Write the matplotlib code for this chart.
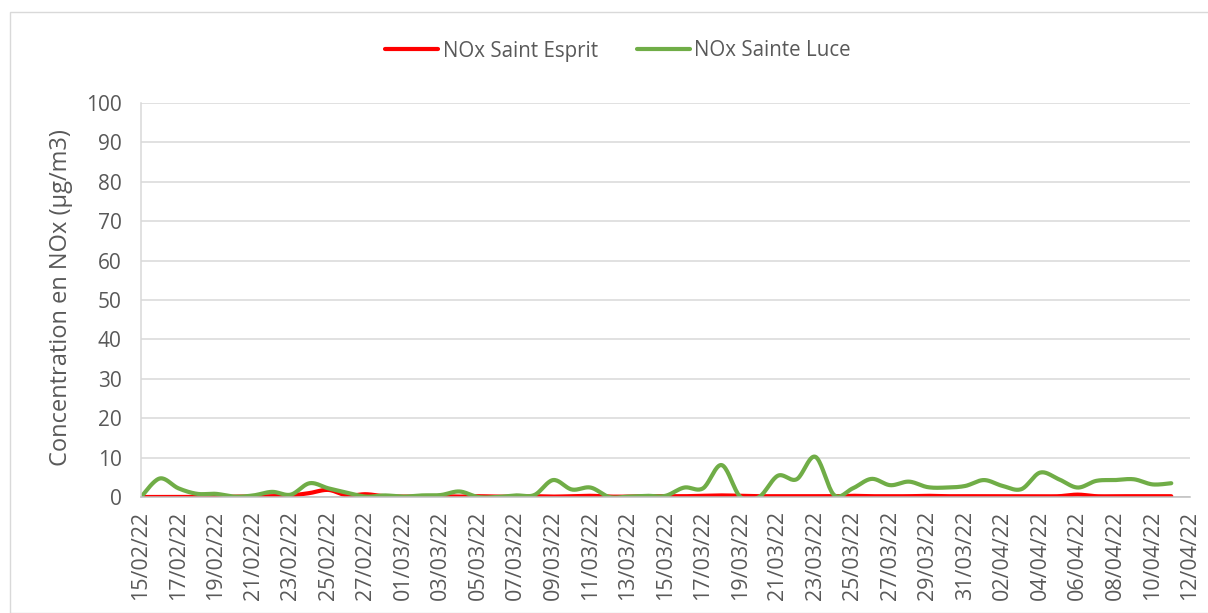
import numpy as np
import pandas as pd
import matplotlib
matplotlib.use("Agg")
import matplotlib.pyplot as plt
import matplotlib.dates as mdates
from matplotlib.patches import Rectangle

plt.rcParams['font.family'] = ['Open Sans', 'DejaVu Sans']

start_date = "2022-02-15"
n_days = 56

saint_esprit = [0.0, 0.0, 0.0, 0.0, 0.0, 0.1, 0.1, 0.2, 0.4, 1.0,
                1.8, 0.4, 0.7, 0.2, 0.1, 0.1, 0.2, 0.1, 0.2, 0.1,
                0.1, 0.2, 0.1, 0.2, 0.3, 0.1, 0.1, 0.2, 0.2, 0.2,
                0.3, 0.4, 0.3, 0.2, 0.2, 0.2, 0.2, 0.2, 0.3, 0.2,
                0.2, 0.2, 0.3, 0.2, 0.2, 0.2, 0.2, 0.2, 0.2, 0.2,
                0.6, 0.2, 0.2, 0.2, 0.2, 0.2]
sainte_luce = [0.0, 4.7, 2.2, 0.8, 0.8, 0.1, 0.4, 1.3, 0.6, 3.5,
               2.2, 1.1, 0.1, 0.4, 0.1, 0.4, 0.5, 1.4, 0.0, 0.0,
               0.4, 0.5, 4.3, 1.9, 2.4, 0.0, 0.1, 0.3, 0.3, 2.4,
               2.2, 8.1, 0.0, 0.0, 5.4, 4.5, 10.2, 0.5, 2.2, 4.6,
               3.0, 3.9, 2.5, 2.4, 2.8, 4.3, 2.8, 2.0, 6.2, 4.5,
               2.4, 4.1, 4.3, 4.5, 3.2, 3.5]
labels = ["NOx Saint Esprit", "NOx Sainte Luce"]
colors = ["#FF0000", "#70AD47"]

dates = pd.date_range(start_date, periods=n_days, freq="D")
xnum = mdates.date2num(dates.to_pydatetime())


def smooth(x, y, n=20):
    x = np.asarray(x, float)
    y = np.asarray(y, float)
    xs, ys = [], []
    for i in range(len(x) - 1):
        p0 = np.array([x[max(i - 1, 0)], y[max(i - 1, 0)]])
        p1 = np.array([x[i], y[i]])
        p2 = np.array([x[i + 1], y[i + 1]])
        p3 = np.array([x[min(i + 2, len(x) - 1)], y[min(i + 2, len(x) - 1)]])
        c1 = p1 + (p2 - p0) / 6.0
        c2 = p2 - (p3 - p1) / 6.0
        t = np.linspace(0, 1, n, endpoint=(i == len(x) - 2))[:, None]
        pts = ((1 - t) ** 3) * p1 + 3 * ((1 - t) ** 2) * t * c1 + 3 * (1 - t) * t ** 2 * c2 + t ** 3 * p2
        xs.append(pts[:, 0])
        ys.append(pts[:, 1])
    return np.concatenate(xs), np.concatenate(ys)


fig = plt.figure(figsize=(12.08, 6.13), dpi=100)
fig.patches.append(Rectangle((10 / 1208, 0), 1.2, 1 - 12 / 613, transform=fig.transFigure,
                             fill=False, edgecolor="#D9D9D9", linewidth=1.0))
ax = fig.add_axes([141 / 1208, 1 - 497 / 613, (1190 - 141) / 1208, (497 - 103) / 613])

for ys, lab, col in zip([saint_esprit, sainte_luce], labels, colors):
    sx, sy = smooth(xnum, ys)
    ax.plot(sx, sy, color=col, linewidth=3.0, label=lab, solid_capstyle="round")

ax.set_ylim(0, 100)
ax.set_yticks(np.arange(0, 101, 10))
ax.set_xlim(xnum[0], xnum[0] + n_days)
ax.xaxis.set_major_formatter(mdates.DateFormatter("%d/%m/%y"))
ax.set_xticks(mdates.date2num(pd.date_range(start_date, periods=29, freq="2D").to_pydatetime()))

ax.grid(axis="y", color="#D9D9D9", linewidth=1.1)
ax.set_axisbelow(True)
for s in ["top", "right"]:
    ax.spines[s].set_visible(False)
ax.spines["left"].set_color("#D9D9D9")
ax.spines["bottom"].set_color("#BFBFBF")
ax.spines["left"].set_linewidth(1.1)
ax.spines["bottom"].set_linewidth(1.1)
ax.tick_params(axis="both", length=0, labelcolor="#595959")
ax.tick_params(axis="x", rotation=90, pad=10, labelsize=15.5)
ax.tick_params(axis="y", pad=14, labelsize=15)
for lab in ax.get_xticklabels():
    lab.set_verticalalignment("top")

ax.set_ylabel("Concentration en NOx (µg/m3)", fontsize=17, color="#595959")
ax.yaxis.set_label_coords(-0.065, 0.505)

leg = fig.legend(loc="center", bbox_to_anchor=(618 / 1208, 1 - 51 / 613), ncol=2, frameon=False,
                 fontsize=14.8, handlelength=2.6, columnspacing=1.9, handletextpad=0.2)
for t in leg.get_texts():
    t.set_color("#595959")

fig.savefig("out.png", dpi=100)
